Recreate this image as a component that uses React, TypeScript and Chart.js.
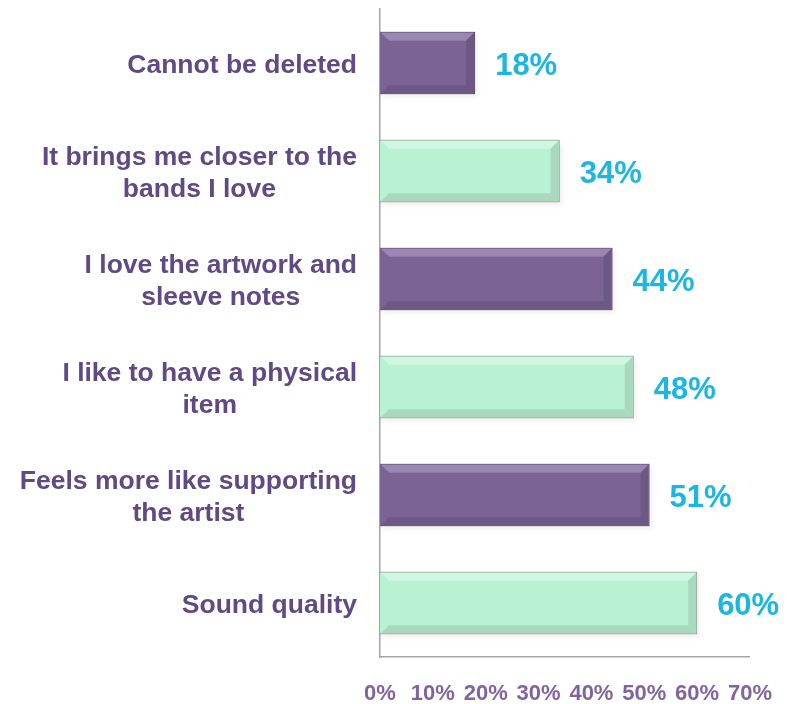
import React, { useEffect, useRef } from "react";
import { Chart, registerables } from "chart.js";

Chart.register(...registerables);

const categories: string[][] = [
  ["Cannot be deleted"],
  ["It brings me closer to the", "bands I love"],
  ["I love the artwork and", "sleeve notes"],
  ["I like to have a physical", "item"],
  ["Feels more like supporting", "the artist"],
  ["Sound quality"],
];
const values: number[] = [18, 34, 44, 48, 51, 60];
const barColors: string[] = ["#7B6493", "#B9F2D2", "#7B6493", "#B9F2D2", "#7B6493", "#B9F2D2"];
const borderColors: string[] = ["#4E3D62", "#8F9F96", "#4E3D62", "#8F9F96", "#4E3D62", "#8F9F96"];
const highlightColors: string[] = ["#9B85B3", "#D0F7E1", "#9B85B3", "#D0F7E1", "#9B85B3", "#D0F7E1"];
const shadeColors: string[] = ["#6C5884", "#A9D8BE", "#6C5884", "#A9D8BE", "#6C5884", "#A9D8BE"];
const xTicks: number[] = [0, 10, 20, 30, 40, 50, 60, 70];

const FONT = "'Liberation Sans', Arial, sans-serif";

const decoPlugin = {
  id: "deco",
  beforeDatasetsDraw(chart: any) {
    const ctx = chart.ctx;
    const meta = chart.getDatasetMeta(0);
    ctx.save();
    meta.data.forEach((bar: any) => {
      const top = bar.y - bar.height / 2;
      ctx.shadowColor = "rgba(0,0,0,0.35)";
      ctx.shadowBlur = 6;
      ctx.shadowOffsetX = 2;
      ctx.shadowOffsetY = 3;
      ctx.fillStyle = "rgba(0,0,0,0.2)";
      ctx.fillRect(bar.base, top, bar.x - bar.base, bar.height);
    });
    ctx.restore();
  },
  afterDatasetsDraw(chart: any) {
    const ctx = chart.ctx;
    const meta = chart.getDatasetMeta(0);
    const yScale = chart.scales.y;
    ctx.save();
    meta.data.forEach((bar: any, i: number) => {
      const l = bar.base + 1;
      const r = bar.x - 1;
      const t = bar.y - bar.height / 2 + 1;
      const b = bar.y + bar.height / 2 - 1;
      const s = 8;
      // top bevel
      ctx.fillStyle = highlightColors[i];
      ctx.beginPath();
      ctx.moveTo(l, t);
      ctx.lineTo(r, t);
      ctx.lineTo(r - s, t + s);
      ctx.lineTo(l + s, t + s);
      ctx.closePath();
      ctx.fill();
      // bottom bevel
      ctx.fillStyle = shadeColors[i];
      ctx.beginPath();
      ctx.moveTo(l, b);
      ctx.lineTo(r, b);
      ctx.lineTo(r - s, b - s);
      ctx.lineTo(l + s, b - s);
      ctx.closePath();
      ctx.fill();
      // right bevel
      ctx.beginPath();
      ctx.moveTo(r, t);
      ctx.lineTo(r, b);
      ctx.lineTo(r - s, b - s);
      ctx.lineTo(r - s, t + s);
      ctx.closePath();
      ctx.fill();
      // value labels
      ctx.fillStyle = "#1CB6E2";
      ctx.font = "bold 31px " + FONT;
      ctx.textAlign = "left";
      ctx.textBaseline = "middle";
      ctx.fillText(values[i] + "%", bar.x + 20, bar.y + 3);
    });
    // category labels: block right-aligned, lines centered
    ctx.font = "bold 26.5px " + FONT;
    ctx.fillStyle = "#5F4A85";
    ctx.textBaseline = "middle";
    ctx.textAlign = "center";
    const rightEdge = chart.chartArea.left - 23;
    const lh = 32;
    categories.forEach((lines, i) => {
      const cy = yScale.getPixelForValue(i);
      const w = Math.max(...lines.map((ln) => ctx.measureText(ln).width));
      const cx = rightEdge - w / 2;
      lines.forEach((ln, j) => {
        const y = cy + (j - (lines.length - 1) / 2) * lh + 3;
        ctx.fillText(ln, cx, y);
      });
    });
    ctx.restore();
  },
};

export default function App() {
  const ref = useRef<HTMLCanvasElement | null>(null);
  useEffect(() => {
    if (!ref.current) return;
    const chart = new Chart(ref.current, {
      type: "bar",
      data: {
        labels: categories.map((c) => c.join(" ")),
        datasets: [
          {
            data: values,
            backgroundColor: barColors,
            borderColor: borderColors,
            borderWidth: 1,
            categoryPercentage: 1,
            barPercentage: 0.58,
          },
        ],
      },
      options: {
        indexAxis: "y",
        animation: false,
        responsive: false,
        maintainAspectRatio: false,
        layout: { padding: { top: 9, right: 43, left: 0, bottom: 0 } },
        plugins: { legend: { display: false }, tooltip: { enabled: false } },
        scales: {
          x: {
            min: 0,
            max: 70,
            afterBuildTicks(scale: any) {
              scale.ticks = xTicks.map((v) => ({ value: v }));
            },
            ticks: {
              callback: (v: any) => v + "%",
              color: "#8064A2",
              font: { family: FONT, size: 22, weight: "bold" },
              padding: 24,
              maxRotation: 0,
              autoSkip: false,
            },
            grid: { display: false, drawTicks: false },
            border: { display: true, color: "#A6A6A6", width: 1.5 },
            afterFit(scale: any) {
              scale.height = 47;
            },
          },
          y: {
            ticks: { display: false },
            grid: { display: false, drawTicks: false },
            border: { display: true, color: "#A6A6A6", width: 1.5 },
            afterFit(scale: any) {
              scale.width = 380;
            },
          },
        },
      },
      plugins: [decoPlugin],
    } as any);
    return () => chart.destroy();
  }, []);
  return (
    <div style={{ position: "fixed", left: 0, top: 0, width: 796, height: 704, background: "#fff" }}>
      <canvas ref={ref} width={796} height={704} style={{ width: 796, height: 704 }} />
    </div>
  );
}
